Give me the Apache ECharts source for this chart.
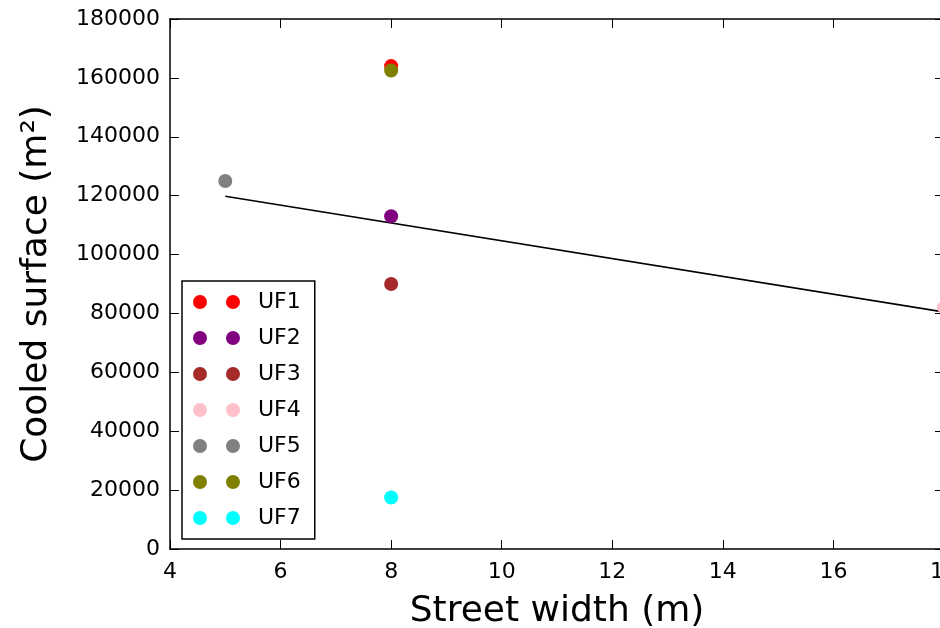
<!DOCTYPE html>
<html>
  <head>
    <meta charset="utf-8">
    <title>Cooled surface</title>
    <script src="https://cdn.jsdelivr.net/npm/echarts@6/dist/echarts.min.js"></script>
    <style>
      html, body { margin: 0; padding: 0; background: #fff; }
      #chart { width: 940px; height: 628px; }
    </style>
  </head>
  <body>
    <div id="chart"></div>
    <script>
      // data
      var names = ['UF1', 'UF2', 'UF3', 'UF4', 'UF5', 'UF6', 'UF7']
      var colors = ['#ff0000', '#800080', '#a52a2a', '#ffc0cb', '#808080', '#808000', '#00ffff']
      var streetWidth = [8, 8, 8, 18, 5, 8, 8]
      var cooledSurface = [164000, 113000, 90000, 82000, 125000, 162500, 17500]
      // fitted line end points
      var fitX = [5, 18]
      var fitY = [119800, 80500]

      var font = 'DejaVu Sans'
      // two dots per legend entry, like the original
      var twoDots = 'path://M0,7a7,7 0 1,0 14,0a7,7 0 1,0 -14,0ZM33,7a7,7 0 1,0 14,0a7,7 0 1,0 -14,0Z'

      var chart = echarts.init(document.getElementById('chart'))

      var series = [
        {
          type: 'line',
          data: fitX.map(function(x, i) { return [x, fitY[i]] }),
          symbol: 'none',
          lineStyle: { color: '#000', width: 1.6 },
          silent: true,
          z: 1
        }
      ]
      names.forEach(function(n, i) {
        series.push({
          name: n,
          type: 'scatter',
          data: [[streetWidth[i], cooledSurface[i]]],
          symbol: 'circle',
          symbolSize: 14,
          itemStyle: { color: colors[i], opacity: 1 },
          z: 2
        })
      })

      var tickLine = { show: true, inside: true, length: 9, lineStyle: { color: '#000', width: 1 } }
      var frame = { show: true, onZero: false, lineStyle: { color: '#000', width: 1.5 } }
      var plain = function(v) { return String(v) }

      chart.setOption({
        animation: false,
        textStyle: { fontFamily: font },
        grid: { left: 170, right: -4, top: 19, bottom: 79, containLabel: false, outerBoundsMode: 'none' },
        legend: {
          data: names,
          orient: 'vertical',
          left: 182,
          top: 281,
          padding: [10, 14, 10, 11],
          itemGap: 14,
          itemWidth: 47,
          itemHeight: 14,
          icon: twoDots,
          backgroundColor: '#fff',
          borderColor: '#000',
          borderWidth: 1.5,
          textStyle: { fontFamily: font, fontSize: 22, color: '#000', padding: [0, 0, 0, 13] }
        },
        xAxis: [
          {
            type: 'value',
            min: 4,
            max: 18,
            interval: 2,
            name: 'Street width (m)',
            nameLocation: 'middle',
            nameGap: 45,
            nameTextStyle: { fontFamily: font, fontSize: 36, color: '#000' },
            axisLine: frame,
            axisTick: tickLine,
            splitLine: { show: false },
            axisLabel: { fontFamily: font, fontSize: 22, color: '#000', margin: 12, formatter: plain, showMaxLabel: true, hideOverlap: false }
          },
          {
            type: 'value',
            position: 'top',
            min: 4,
            max: 18,
            interval: 2,
            axisLine: frame,
            axisTick: tickLine,
            splitLine: { show: false },
            axisLabel: { show: false }
          }
        ],
        yAxis: [
          {
            type: 'value',
            min: 0,
            max: 180000,
            interval: 20000,
            name: 'Cooled surface (m²)',
            nameLocation: 'middle',
            nameGap: 115,
            nameTextStyle: { fontFamily: font, fontSize: 36, color: '#000' },
            axisLine: frame,
            axisTick: tickLine,
            splitLine: { show: false },
            axisLabel: { fontFamily: font, fontSize: 22, color: '#000', margin: 10, formatter: plain }
          },
          {
            type: 'value',
            position: 'right',
            min: 0,
            max: 180000,
            interval: 20000,
            axisLine: frame,
            axisTick: tickLine,
            splitLine: { show: false },
            axisLabel: { show: false }
          }
        ],
        series: series
      })
    </script>
  </body>
</html>
